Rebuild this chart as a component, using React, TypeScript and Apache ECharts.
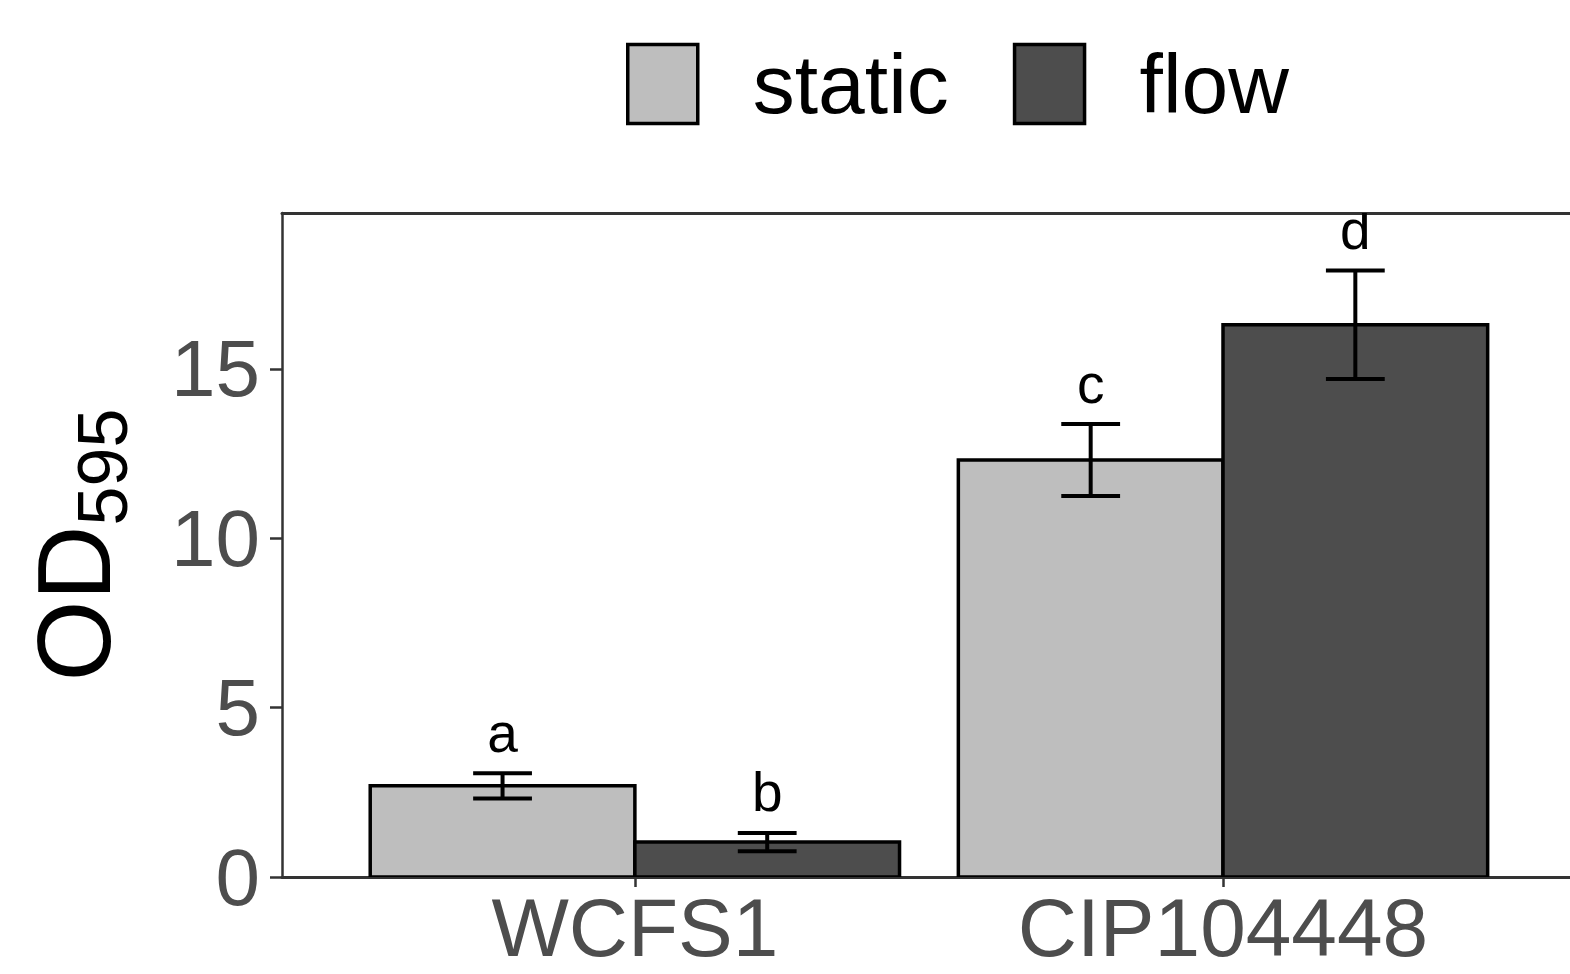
import React, { useEffect, useRef } from 'react';
import * as echarts from 'echarts';

const categories = ['WCFS1', 'CIP104448'];
const seriesNames = ['static', 'flow'];
const staticMean = [2.69, 12.31];
const staticSd = [0.37, 1.06];
const staticLetters = ['a', 'c'];
const flowMean = [1.03, 16.3];
const flowSd = [0.27, 1.6];
const flowLetters = ['b', 'd'];
const yTicks = [0, 5, 10, 15];
const xTicks = [1, 2];

const FONT = '"Liberation Sans", Arial, Helvetica, sans-serif';
const DODGE = 0.225;
const BAR_W = 0.45;
const CAP = 0.05;
const STATIC_COLOR = '#bebebe';
const FLOW_COLOR = '#4d4d4d';

function makeSeries(name: string, means: number[], sds: number[], letters: string[], color: string, offset: number) {
  return {
    type: 'custom',
    name,
    xAxisIndex: 0,
    yAxisIndex: 0,
    clip: true,
    itemStyle: { color, borderColor: '#000', borderWidth: 3.5 },
    encode: { x: 0, y: 1 },
    data: means.map((m, i) => [i + 1 + offset, m, sds[i], i]),
    renderItem: (params: any, api: any) => {
      const x = api.value(0);
      const m = api.value(1);
      const sd = api.value(2);
      const idx = api.value(3);
      const tl = api.coord([x - BAR_W / 2, m]);
      const br = api.coord([x + BAR_W / 2, 0]);
      const up = api.coord([x, m + sd]);
      const lo = api.coord([x, m - sd]);
      const capL = api.coord([x - CAP, 0])[0];
      const capR = api.coord([x + CAP, 0])[0];
      const ls = { stroke: '#000', lineWidth: 4 };
      return {
        type: 'group',
        children: [
          {
            type: 'rect',
            shape: { x: tl[0], y: tl[1], width: br[0] - tl[0], height: br[1] - tl[1] },
            style: { fill: color, stroke: '#000', lineWidth: 3.5 },
          },
          { type: 'line', shape: { x1: up[0], y1: up[1], x2: lo[0], y2: lo[1] }, style: ls },
          { type: 'line', shape: { x1: capL, y1: up[1], x2: capR, y2: up[1] }, style: ls },
          { type: 'line', shape: { x1: capL, y1: lo[1], x2: capR, y2: lo[1] }, style: ls },
          {
            type: 'text',
            x: up[0],
            y: up[1] - 13,
            style: {
              text: letters[idx],
              fill: '#000',
              font: `55px ${FONT}`,
              align: 'center',
              verticalAlign: 'bottom',
            },
          },
        ],
      };
    },
  };
}

export default function App() {
  const ref = useRef<HTMLDivElement>(null);
  useEffect(() => {
    if (!ref.current) return;
    const chart = echarts.init(ref.current, null, { renderer: 'svg' });
    chart.setOption({
      animation: false,
      backgroundColor: '#fff',
      legend: {
        data: [
          { name: seriesNames[0], itemStyle: { color: STATIC_COLOR, borderColor: '#000', borderWidth: 3.5 } },
          { name: seriesNames[1], itemStyle: { color: FLOW_COLOR, borderColor: '#000', borderWidth: 3.5 } },
        ],
        icon: 'rect',
        left: 626,
        top: 42,
        padding: 0,
        itemWidth: 70,
        itemHeight: 79,
        itemGap: 64,
        textStyle: { fontSize: 84, fontFamily: FONT, color: '#000', padding: [0, 0, 0, 50] },
      },
      grid: {
        left: 282,
        top: 213,
        right: 0,
        height: 664,
        show: false,
        containLabel: false,
      },
      xAxis: [
        {
          type: 'value',
          min: 0.4,
          max: 2.59,
          splitLine: { show: false },
          axisLine: { show: true, onZero: false, lineStyle: { color: '#333', width: 3 } },
          axisTick: { show: true, customValues: xTicks, length: 10, lineStyle: { color: '#333', width: 2.5 } },
          axisLabel: {
            customValues: xTicks,
            formatter: (v: number) => categories[Math.round(v) - 1] ?? '',
            fontSize: 82,
            fontFamily: FONT,
            color: '#4d4d4d',
            margin: 9,
          },
        },
        {
          type: 'value',
          position: 'top',
          min: 0.4,
          max: 2.59,
          splitLine: { show: false },
          axisLine: { show: true, onZero: false, lineStyle: { color: '#333', width: 3 } },
          axisTick: { show: false },
          axisLabel: { show: false },
        },
      ],
      yAxis: {
        type: 'value',
        min: 0,
        max: 19.6,
        interval: 5,
        splitLine: { show: false },
        axisLine: { show: true, onZero: false, lineStyle: { color: '#333', width: 2.5 } },
        axisTick: { show: true, customValues: yTicks, length: 12, lineStyle: { color: '#333', width: 2.5 } },
        axisLabel: {
          customValues: yTicks,
          fontSize: 80,
          fontFamily: FONT,
          color: '#4d4d4d',
          margin: 22,
        },
        name: '{a|OD}{b|595}',
        nameLocation: 'middle',
        nameRotate: 90,
        nameGap: 156,
        nameTextStyle: {
          fontSize: 104,
          fontFamily: FONT,
          color: '#000',
          rich: {
            a: { fontSize: 104, lineHeight: 104, fontFamily: FONT, color: '#000' },
            b: { fontSize: 70, height: 46, lineHeight: 46, verticalAlign: 'bottom', fontFamily: FONT, color: '#000' },
          },
        },
      },
      series: [
        makeSeries(seriesNames[0], staticMean, staticSd, staticLetters, STATIC_COLOR, -DODGE),
        makeSeries(seriesNames[1], flowMean, flowSd, flowLetters, FLOW_COLOR, DODGE),
      ],
    });
    return () => chart.dispose();
  }, []);
  return (
    <div
      ref={ref}
      style={{ position: 'fixed', left: 0, top: 0, width: 1570, height: 974, background: '#fff' }}
    />
  );
}
